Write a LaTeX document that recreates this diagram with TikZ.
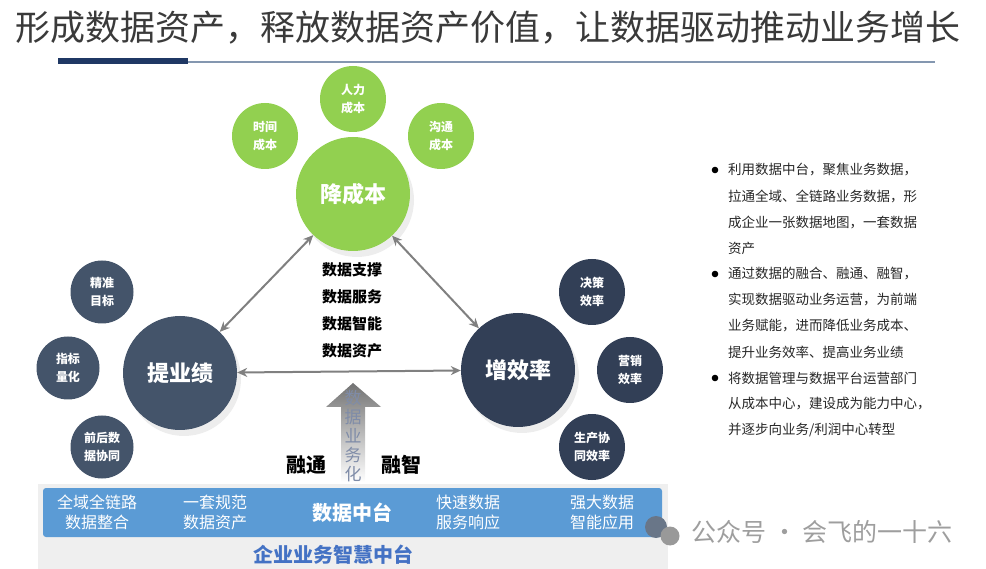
\documentclass[tikz,border=0pt]{standalone}
\usepackage{fontspec}
\setmainfont{Noto Sans CJK SC}
\usepackage{xcolor}
\usetikzlibrary{arrows.meta,shadows}
\definecolor{leaf}{HTML}{92D050}
\definecolor{slate}{HTML}{44546A}
\definecolor{deep}{HTML}{323F56}
\definecolor{linkgray}{HTML}{808080}
\definecolor{barblue}{HTML}{5B9BD5}
\definecolor{panel}{HTML}{EFEFEF}
\definecolor{basetext}{HTML}{4472C4}
\definecolor{navy}{HTML}{1F3864}
\definecolor{rule}{HTML}{8497B0}
\definecolor{titleink}{HTML}{3A3A3A}
\definecolor{vtext}{HTML}{7F8CA8}

\begin{document}
\begin{tikzpicture}[x=1pt, y=-1pt, >={Stealth[length=10pt, width=9pt]},
  big/.style={circle, minimum size=114pt, inner sep=0pt, text=white,
    font=\fontsize{22}{24}\selectfont\bfseries,
    drop shadow={opacity=0.14, shadow xshift=4pt, shadow yshift=-6pt}},
  small/.style={circle, minimum size=66pt, inner sep=0pt, text=white, align=center,
    font=\fontsize{12}{18}\selectfont\bfseries},
  link/.style={<->, draw=linkgray, line width=2pt},
  pill/.style={text=white, align=center, font=\fontsize{16}{20}\selectfont},
  line/.style={anchor=west, inner sep=0pt, text=black!85, font=\fontsize{13.5}{16}\selectfont}]
\useasboundingbox (0,0) rectangle (986,569);

% title
\node[text=titleink, font=\fontsize{35}{38}\selectfont] (title) at (488,28)
  {形成数据资产，释放数据资产价值，让数据驱动推动业务增长};
\draw[rule, line width=1.6pt] (58,62) -- (935,62);
\draw[navy, line width=6pt] (58,61.5) -- (188,61.5);

% circles
\node[big, fill=leaf] (cost) at (353,194) {降成本};
\node[big, fill=slate] (perf) at (180,373) {提业绩};
\node[big, fill=deep] (eff) at (518,370) {增效率};
\foreach \n/\x/\y/\t in {c1/265/136/时间\\成本, c2/353/99/人力\\成本, c3/441/136/沟通\\成本}
  \node[small, fill=leaf] (\n) at (\x,\y) {\t};
\foreach \n/\x/\y/\t in {p1/102/292/精准\\目标, p2/68/368/指标\\量化, p3/102/447/前后数\\据协同}
  \node[small, fill=slate, minimum size=63pt] (\n) at (\x,\y) {\t};
\foreach \n/\x/\y/\t in {e1/592/292/决策\\效率, e2/630/370/营销\\效率, e3/592/447/生产协\\同效率}
  \node[small, fill=deep] (\n) at (\x,\y) {\t};

\draw[link] (cost) -- (perf);
\draw[link] (cost) -- (eff);
\draw[link] (perf) -- (eff);

% centre
\foreach \y/\t in {270/数据支撑, 297/数据服务, 324/数据智能, 351/数据资产}
  \node[font=\fontsize{15}{16}\selectfont\bfseries] (mid\y) at (352,\y) {\t};
\shade[top color=black!55, bottom color=white]
  (353,383) -- (381,407) -- (365,407) -- (365,482) -- (341,482) -- (341,407) -- (326,407) -- cycle;
\node[text=vtext, align=center, font=\fontsize{17}{19}\selectfont] (vert) at (353,436)
  {数\\据\\业\\务\\化};
\node[font=\fontsize{20}{22}\selectfont\bfseries] (rt) at (306,465) {融通};
\node[font=\fontsize{20}{22}\selectfont\bfseries] (rz) at (401,465) {融智};

% base platform
\fill[panel] (38,484) rectangle (668,569);
\fill[barblue, rounded corners=3pt] (43,488) rectangle (662,537);
\node[pill] (b1) at (97,512) {全域全链路\\数据整合};
\node[pill] (b2) at (215,512) {一套规范\\数据资产};
\node[pill, font=\fontsize{20}{22}\selectfont\bfseries] (b3) at (352,513) {数据中台};
\node[pill] (b4) at (468,512) {快速数据\\服务响应};
\node[pill] (b5) at (602,512) {强大数据\\智能应用};
\node[text=basetext, font=\fontsize{20}{22}\selectfont\bfseries] (base) at (333,555) {企业业务智慧中台};

% notes
\foreach \y in {170,274,378}
  \fill (715,\y) circle (3.3pt);
\foreach \y/\t in {170/利用数据中台，聚焦业务数据，, 196/拉通全域、全链路业务数据，形,
  222/成企业一张数据地图，一套数据, 248/资产, 274/通过数据的融合、融通、融智，,
  300/实现数据驱动业务运营，为前端, 326/业务赋能，进而降低业务成本、,
  352/提升业务效率、提高业务业绩, 378/将数据管理与数据平台运营部门,
  404/从成本中心，建设成为能力中心，, 430/{并逐步向业务/利润中心转型}}
  \node[line] (n\y) at (728,\y) {\t};

% watermark
\fill[slate!80] (656,527) circle (11pt);
\fill[black!40] (670,536) circle (9.5pt);
\node[anchor=west, text=black!38, font=\fontsize{25}{28}\selectfont] (mark) at (688,532)
  {公众号 · 会飞的一十六};
\end{tikzpicture}
\end{document}
